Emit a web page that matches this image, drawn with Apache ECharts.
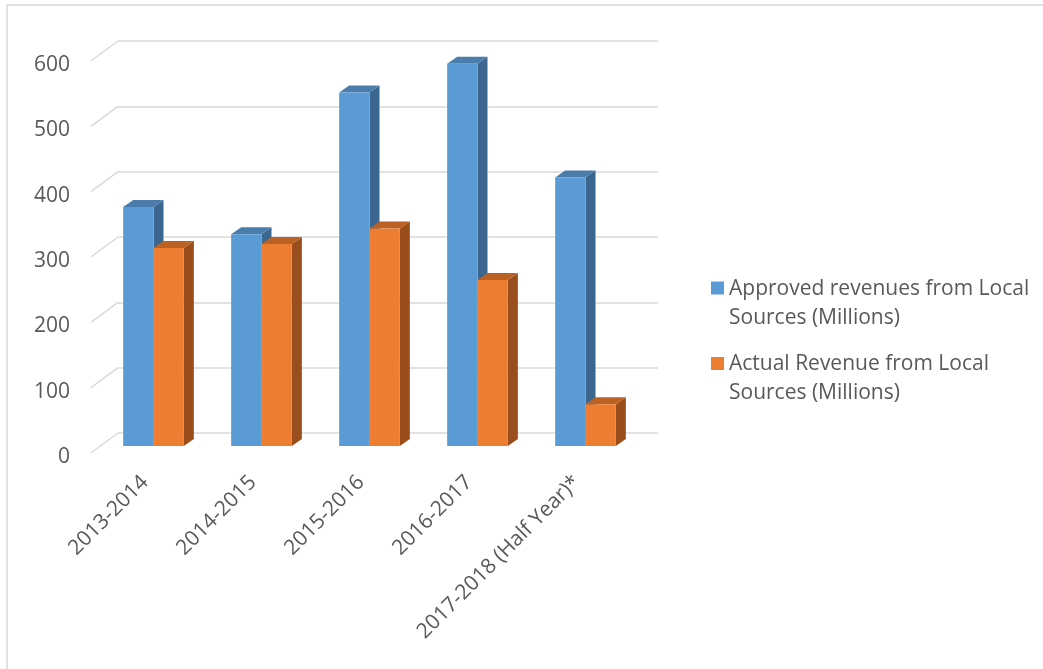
<!DOCTYPE html>
<html>
<head>
<meta charset="utf-8">
<title>Revenues from Local Sources</title>
<script src="https://cdn.jsdelivr.net/npm/echarts@6/dist/echarts.min.js"></script>
<style>
  html, body { margin: 0; padding: 0; background: #ffffff; }
  #chart { width: 1043px; height: 669px; }
</style>
</head>
<body>
<div id="chart"></div>
<script>
// Fiscal years on the category axis
const categories = ['2013-2014', '2014-2015', '2015-2016', '2016-2017', '2017-2018 (Half Year)*'];

// Revenue figures, in millions
const approvedRevenue = [366, 324, 541, 585, 411];
const actualRevenue = [303, 309, 333, 254, 64];

// Value axis ticks
const valueTicks = [0, 100, 200, 300, 400, 500, 600];

const seriesNames = [
  'Approved revenues from Local Sources (Millions)',
  'Actual Revenue from Local Sources (Millions)'
];

const FONT = 'Open Sans';
const TEXT = '#595959';
const GRID_LINE = '#D9D9D9';

// Oblique depth of the floor and of a single column, in pixels
const FLOOR_DEPTH = [27, -20];
const BAR_DEPTH = [10, -7];

const PLOT_W = 540;
const PLOT_H = 392;

// Parallel planes: front edge of the floor, front faces of the columns, back wall,
// and the plane the value labels are set against (a little below the floor edge)
const frontPlane = { left: 91, top: 61 };
const barPlane = { left: 99.5, top: 54 };
const backPlane = { left: 118, top: 41 };
const labelPlane = { left: 91, top: 65 };

const palette = [
  { front: '#5B9BD5', top: '#4A7DAB', side: '#3B668F' },
  { front: '#ED7D31', top: '#BC6124', side: '#9A4E1C' }
];

function makeGrid(p) {
  return { left: p.left, top: p.top, width: PLOT_W, height: PLOT_H, containLabel: false };
}

function valueAxis(gridIndex, extra) {
  return Object.assign({
    type: 'value', gridIndex: gridIndex, min: valueTicks[0], max: valueTicks[valueTicks.length - 1],
    interval: valueTicks[1] - valueTicks[0],
    axisLine: { show: false }, axisTick: { show: false },
    axisLabel: { show: false }, splitLine: { show: false }
  }, extra || {});
}

function categoryAxis(gridIndex, extra) {
  return Object.assign({
    type: 'category', gridIndex: gridIndex, data: categories, boundaryGap: true,
    axisLine: { show: false }, axisTick: { show: false },
    axisLabel: { show: false }, splitLine: { show: false }
  }, extra || {});
}

// Column drawn as front face, side face and top face
function columnRenderer(seriesIdx) {
  return function (params, api) {
    const idx = api.value(0);
    const top = api.coord([idx, api.value(1)]);
    const base = api.coord([idx, 0]);
    const band = api.size([1, 0])[0];
    const w = band * 0.281;
    const x0 = seriesIdx === 0 ? top[0] - w : top[0];
    const x1 = x0 + w;
    const yt = top[1];
    const yb = base[1];
    const dx = BAR_DEPTH[0], dy = BAR_DEPTH[1];
    const c = palette[seriesIdx];
    return {
      type: 'group',
      children: [
        {
          type: 'polygon',
          shape: { points: [[x1, yt], [x1 + dx, yt + dy], [x1 + dx, yb + dy], [x1, yb]] },
          style: { fill: c.side }
        },
        {
          type: 'polygon',
          shape: { points: [[x0, yt], [x0 + dx, yt + dy], [x1 + dx, yt + dy], [x1, yt]] },
          style: { fill: c.top }
        },
        {
          type: 'rect',
          shape: { x: x0, y: yt, width: w, height: yb - yt },
          style: { fill: c.front }
        }
      ]
    };
  };
}

// Two-line legend entry; an empty spacer line on top keeps the swatch level with the first line
function legendFor(name, color, top) {
  return {
    data: [{ name: name, icon: 'rect', itemStyle: { color: color } }],
    orient: 'vertical',
    left: 711,
    top: top,
    padding: 0,
    itemWidth: 13,
    itemHeight: 13,
    selectedMode: false,
    formatter: function (n) {
      const parts = n.split(' Sources');
      return '{s| }\n{t|' + parts[0] + '}\n{t|Sources' + parts[1] + '}';
    },
    textStyle: {
      fontFamily: FONT, fontSize: 21, color: TEXT,
      rich: {
        s: { fontSize: 21, lineHeight: 31 },
        t: { fontFamily: FONT, fontSize: 21, color: TEXT, lineHeight: 29 }
      }
    }
  };
}

const chart = echarts.init(document.getElementById('chart'), null, { renderer: 'canvas' });

chart.setOption({
  animation: false,
  backgroundColor: '#ffffff',
  textStyle: { fontFamily: FONT },
  graphic: [
    {
      type: 'polyline',
      shape: { points: [[7, 669], [7, 5], [1043, 5]] },
      style: { stroke: '#D9D9D9', lineWidth: 1.5, fill: null },
      silent: true
    }
  ],
  legend: [
    legendFor(seriesNames[0], palette[0].front, 248.5),
    legendFor(seriesNames[1], palette[1].front, 324)
  ],
  grid: [makeGrid(frontPlane), makeGrid(barPlane), makeGrid(backPlane), makeGrid(labelPlane)],
  xAxis: [
    categoryAxis(0, {
      axisLabel: {
        show: true, rotate: 45, margin: 26, interval: 0,
        fontFamily: FONT, fontSize: 21, color: TEXT
      }
    }),
    categoryAxis(1),
    categoryAxis(2),
    categoryAxis(3)
  ],
  yAxis: [
    valueAxis(0),
    valueAxis(1),
    valueAxis(2, {
      splitLine: { show: true, lineStyle: { color: GRID_LINE, width: 1.5 } }
    }),
    valueAxis(3, {
      axisLabel: { show: true, margin: 21, fontFamily: FONT, fontSize: 21, color: TEXT }
    })
  ],
  series: [
    {
      // Short floor edges joining the value labels to the back-wall gridlines
      type: 'custom',
      name: 'floor-edges',
      xAxisIndex: 0, yAxisIndex: 0,
      silent: true,
      data: valueTicks.map(function (v) { return [0, v]; }),
      renderItem: function (params, api) {
        const p = api.coord([0, api.value(1)]);
        const x = params.coordSys.x;
        return {
          type: 'line',
          shape: { x1: x, y1: p[1], x2: x + FLOOR_DEPTH[0], y2: p[1] + FLOOR_DEPTH[1] },
          style: { stroke: GRID_LINE, lineWidth: 1.5 }
        };
      }
    },
    {
      type: 'custom',
      name: seriesNames[0],
      xAxisIndex: 1, yAxisIndex: 1,
      itemStyle: { color: palette[0].front },
      data: approvedRevenue.map(function (v, i) { return [i, v]; }),
      renderItem: columnRenderer(0)
    },
    {
      type: 'custom',
      name: seriesNames[1],
      xAxisIndex: 1, yAxisIndex: 1,
      itemStyle: { color: palette[1].front },
      data: actualRevenue.map(function (v, i) { return [i, v]; }),
      renderItem: columnRenderer(1)
    }
  ]
});
</script>
</body>
</html>
